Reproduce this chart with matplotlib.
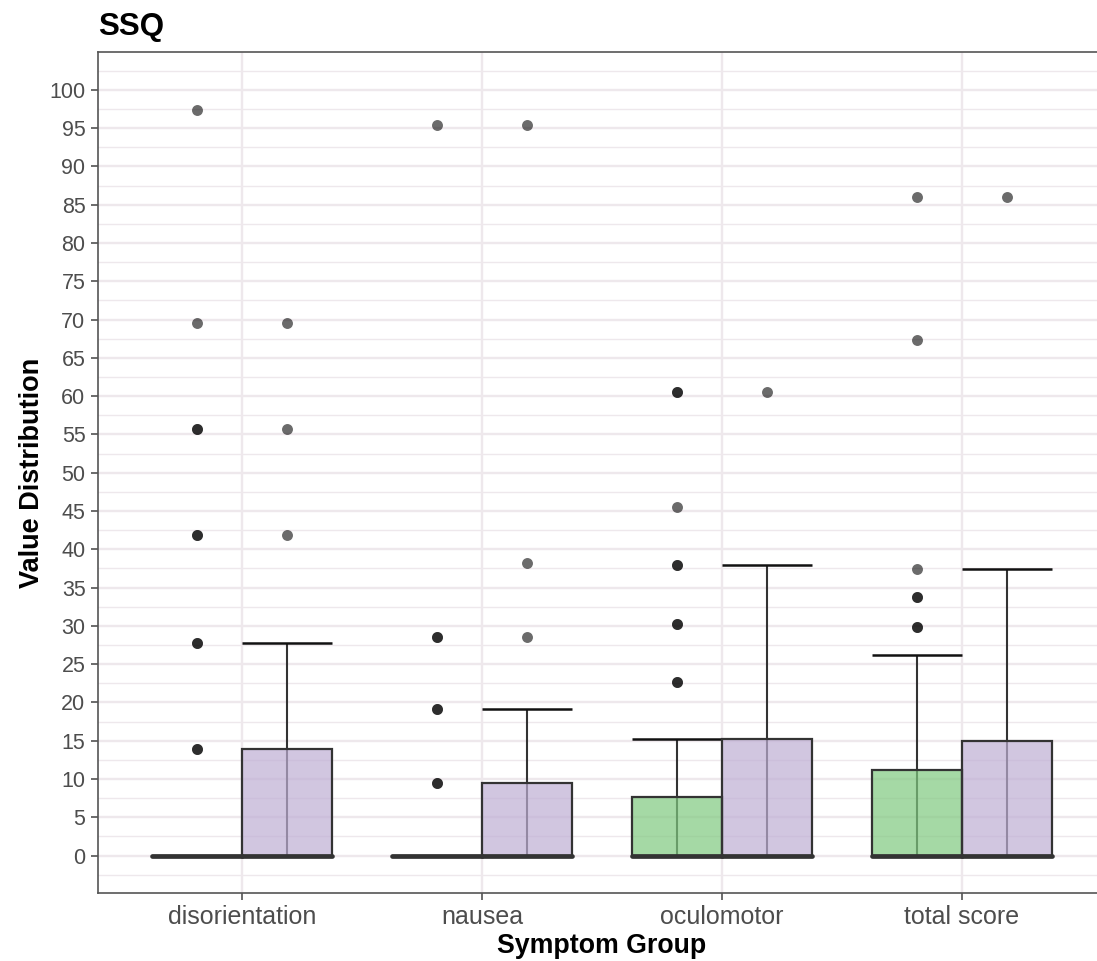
import matplotlib
matplotlib.use("Agg")
import matplotlib.pyplot as plt
import numpy as np

plt.rcParams['font.family'] = ['Liberation Sans', 'DejaVu Sans']

categories = ["disorientation", "nausea", "oculomotor", "total score"]
groups = ["A", "B"]
group_colors = ["#7FC97F", "#BEAED4"]

# box stats per group: lower whisker, q1, median, q3, upper whisker
g1_whislo = [0, 0, 0, 0]
g1_q1 = [0, 0, 0, 0]
g1_med = [0, 0, 0, 0]
g1_q3 = [0, 0, 7.6, 11.2]
g1_whishi = [0, 0, 15.2, 26.2]
g1_fliers = [
    [13.9, 13.9, 27.8, 27.8, 41.8, 41.8, 55.7, 55.7, 69.6, 97.4],
    [9.5, 9.5, 19.1, 19.1, 28.6, 28.6, 95.4],
    [22.7, 22.7, 30.3, 30.3, 37.9, 37.9, 45.5, 60.6, 60.6],
    [29.9, 29.9, 33.7, 33.7, 37.4, 67.3, 86.0],
]

g2_whislo = [0, 0, 0, 0]
g2_q1 = [0, 0, 0, 0]
g2_med = [0, 0, 0, 0]
g2_q3 = [13.9, 9.5, 15.2, 15.0]
g2_whishi = [27.8, 19.1, 37.9, 37.4]
g2_fliers = [
    [41.8, 55.7, 69.6],
    [28.6, 38.2, 95.4],
    [60.6],
    [86.0],
]

stats = [
    (g1_whislo, g1_q1, g1_med, g1_q3, g1_whishi, g1_fliers),
    (g2_whislo, g2_q1, g2_med, g2_q3, g2_whishi, g2_fliers),
]

W, H = 1097, 961
fig = plt.figure(figsize=(W / 100, H / 100), dpi=100)
left, right = 98, 1106
top, bottom = 52.3, 892.5
ax = fig.add_axes([left / W, (H - bottom) / H, (right - left) / W, (bottom - top) / H])

ax.set_xlim(0.4, 4.6)
ax.set_ylim(-4.83, 104.9)

grid_col = "#EEE8EC"
ax.set_yticks(np.arange(0, 101, 5))
ax.set_yticks(np.arange(-2.5, 104, 5), minor=True)
ax.set_xticks(np.arange(1, 5))
ax.set_xticklabels(categories)
ax.grid(which="major", axis="both", color=grid_col, linewidth=1.7, zorder=0)
ax.grid(which="minor", axis="y", color=grid_col, linewidth=1.0, zorder=0)
ax.set_axisbelow(True)

dodge = 0.75
bw = dodge / 2
xs = np.arange(1, 5)
line_col = "#333333"
for gi, (wlo, q1, med, q3, whi, fl) in enumerate(stats):
    off = (gi - 0.5) * bw
    pos = xs + off
    # errorbar (whiskers) first
    ax.vlines(pos, wlo, whi, color=line_col, linewidth=1.5, zorder=2)
    ax.hlines(whi, pos - bw / 2, pos + bw / 2, color="#111111", linewidth=1.8, zorder=2)
    ax.hlines(wlo, pos - bw / 2, pos + bw / 2, color="#111111", linewidth=1.8, zorder=2)
    # boxes
    heights = np.array(q3) - np.array(q1)
    ax.bar(pos, heights, width=bw, bottom=q1, color=group_colors[gi], alpha=0.7,
           edgecolor="none", zorder=3)
    ax.bar(pos, heights, width=bw, bottom=q1, facecolor="none",
           edgecolor=line_col, linewidth=1.6, zorder=4)
    ax.hlines(med, pos - bw / 2, pos + bw / 2, color=line_col, linewidth=3.4,
              capstyle="round", zorder=5)
    for p, f in zip(pos, fl):
        ax.scatter(np.full(len(f), p), f, s=62, color="black", alpha=0.58,
                   linewidths=0, zorder=6)

for s in ["left", "bottom", "top", "right"]:
    ax.spines[s].set_color("#555555")
    ax.spines[s].set_linewidth(1.2)

ax.tick_params(axis="both", which="major", length=5, width=1.1, color="#444444",
               labelcolor="#4D4D4D", pad=4)
ax.tick_params(axis="y", labelsize=15.5)
ax.tick_params(axis="x", labelsize=18)
ax.tick_params(which="minor", length=0)

ax.set_ylabel("Value Distribution", fontsize=19.5, fontweight="bold", labelpad=3)
ax.set_xlabel("Symptom Group", fontsize=19.3, fontweight="bold", labelpad=3)
fig.text(98 / W, 1 - 27 / H, "SSQ", fontsize=22.5, fontweight="bold", ha="left", va="center")

fig.savefig("out.png", dpi=100)
